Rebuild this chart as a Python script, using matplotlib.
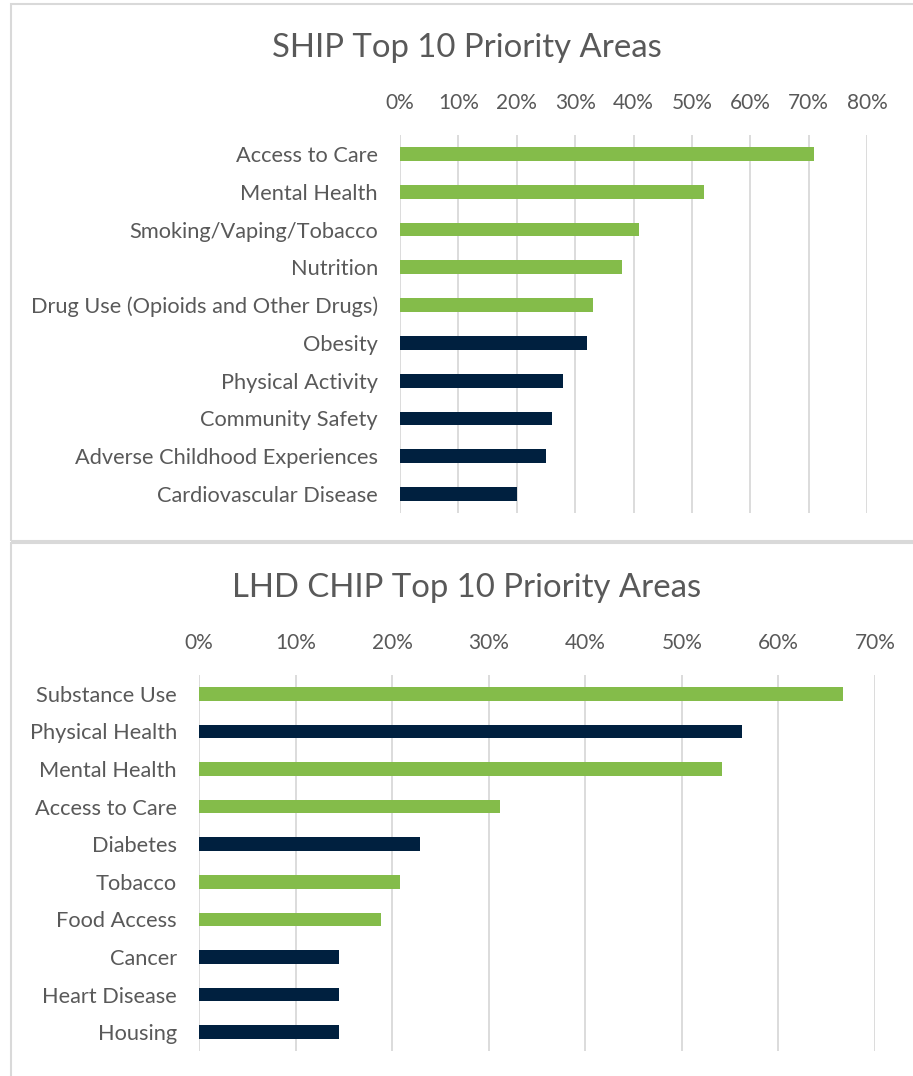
import matplotlib
matplotlib.use("Agg")
import matplotlib.pyplot as plt
from matplotlib.patches import Rectangle
from matplotlib.ticker import PercentFormatter

# Data
ship_areas = ["Access to Care", "Mental Health", "Smoking/Vaping/Tobacco", "Nutrition",
              "Drug Use (Opioids and Other Drugs)", "Obesity", "Physical Activity",
              "Community Safety", "Adverse Childhood Experiences", "Cardiovascular Disease"]
ship_values = [0.71, 0.52, 0.41, 0.38, 0.33, 0.32, 0.28, 0.26, 0.25, 0.20]
ship_shared = [True, True, True, True, True, False, False, False, False, False]

lhd_areas = ["Substance Use", "Physical Health", "Mental Health", "Access to Care", "Diabetes",
             "Tobacco", "Food Access", "Cancer", "Heart Disease", "Housing"]
lhd_values = [0.667, 0.562, 0.542, 0.312, 0.229, 0.208, 0.188, 0.145, 0.145, 0.145]
lhd_shared = [True, False, True, True, False, True, True, False, False, False]

green = "#84BC4A"
navy = "#00203F"
text_color = "#595959"
grid_color = "#D9D9D9"

plt.rcParams["font.family"] = ["Lato", "DejaVu Sans"]

W, H = 913, 1076
fig = plt.figure(figsize=(W / 100, H / 100), dpi=100)

# panel borders
fig.patches.append(Rectangle((11 / W, 1 - 541 / H), 1.0, 537 / H, transform=fig.transFigure,
                             fill=False, edgecolor=grid_color, linewidth=1.5))
fig.patches.append(Rectangle((11 / W, 1 - 1100 / H), 1.0, 557 / H, transform=fig.transFigure,
                             fill=False, edgecolor=grid_color, linewidth=1.5))


def draw_panel(ax, areas, values, shared, xmax, title, title_y):
    colors = [green if s else navy for s in shared]
    ax.barh(range(len(areas)), values, height=0.36, color=colors, zorder=3)
    ax.set_xlim(0, xmax)
    ax.set_ylim(len(areas) - 0.5, -0.5)
    ax.set_xticks([i / 10 for i in range(int(round(xmax * 10)) + 1)])
    ax.xaxis.set_major_formatter(PercentFormatter(1.0, decimals=0))
    ax.xaxis.tick_top()
    ax.set_yticks(range(len(areas)))
    ax.set_yticklabels(areas)
    ax.tick_params(axis="both", length=0, colors=text_color)
    ax.tick_params(axis="y", pad=16, labelsize=15.7)
    ax.tick_params(axis="x", pad=16, labelsize=15)
    ax.grid(axis="x", color=grid_color, linewidth=1.3, zorder=0)
    for s in ax.spines.values():
        s.set_visible(False)
    fig.text(467 / W, 1 - title_y / H, title, ha="center", va="center",
             fontsize=23.7, color=text_color)


ax1 = fig.add_axes([400 / W, 1 - 513 / H, (867 - 400) / W, (513 - 135) / H])
draw_panel(ax1, ship_areas, ship_values, ship_shared, 0.8, "SHIP Top 10 Priority Areas", 48)

ax2 = fig.add_axes([199 / W, 1 - 1051 / H, (875 - 199) / W, (1051 - 675) / H])
draw_panel(ax2, lhd_areas, lhd_values, lhd_shared, 0.7, "LHD CHIP Top 10 Priority Areas", 588)

fig.savefig("out.png", dpi=100)
